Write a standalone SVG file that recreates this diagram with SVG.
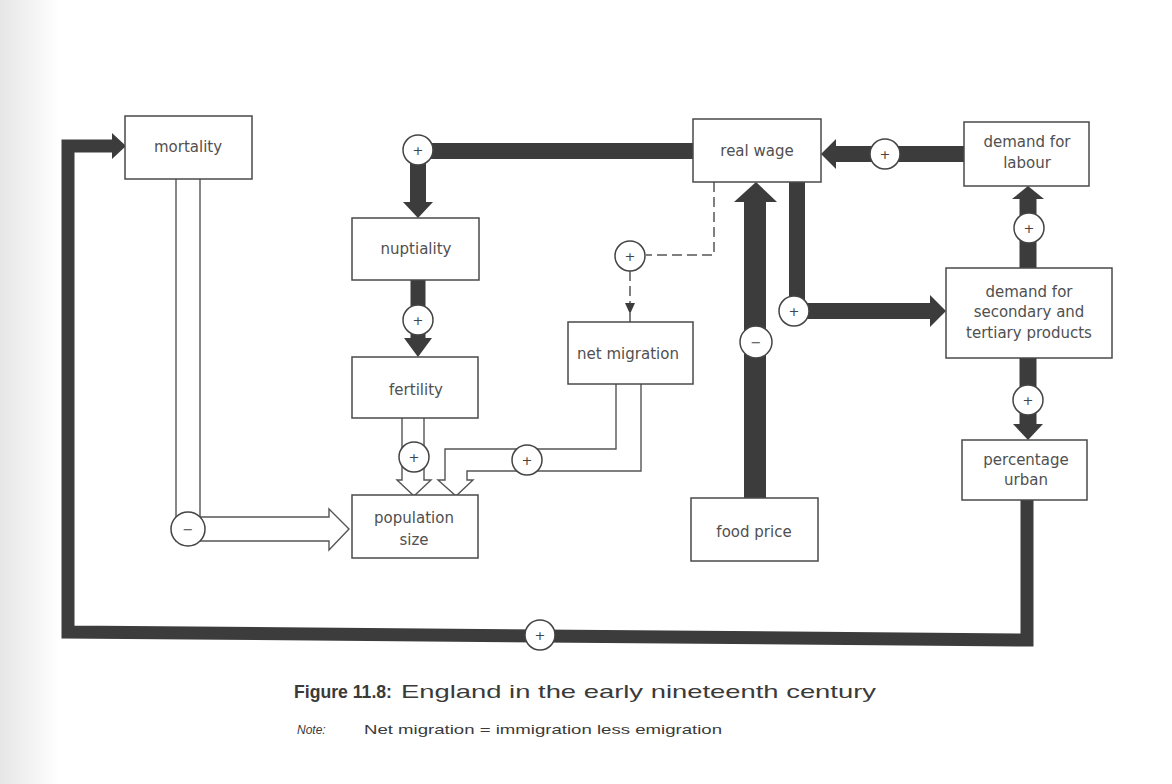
<svg xmlns="http://www.w3.org/2000/svg" width="1172" height="784" viewBox="0 0 1172 784">
<style>
.box{fill:#fff;stroke:#4a4a4a;stroke-width:1.5}
.lbl{font-family:"DejaVu Sans",sans-serif;font-size:15px;fill:#505050;text-anchor:middle;dominant-baseline:central}
.thick{fill:none;stroke:#3c3c3c;stroke-linejoin:miter}
.head{fill:#3c3c3c}
.hollow{fill:#fff;stroke:#555;stroke-width:1.4;stroke-linejoin:miter}
.dash{fill:none;stroke:#555;stroke-width:1.5;stroke-dasharray:10 5}
.sign circle{fill:#fff;stroke:#444;stroke-width:1.5}
.sign text{font-family:"DejaVu Sans",sans-serif;font-size:13px;fill:#444;text-anchor:middle;dominant-baseline:central}
.cap{font-family:"Liberation Sans",Arial,sans-serif;fill:#3a3a3a}
</style>
<defs>
<linearGradient id="scan" x1="0" y1="0" x2="1" y2="0">
<stop offset="0" stop-color="#e6e6e6"/>
<stop offset="1" stop-color="#ffffff"/>
</linearGradient>
</defs>
<rect x="0" y="0" width="1172" height="784" fill="#fff"/>
<rect x="0" y="0" width="60" height="784" fill="url(#scan)"/>

<g id="connectors">
  <!-- hollow arrows -->
  <path class="hollow" d="M176,179 V541 H329 V550 L349,529 L329,509 V517 H200 V179"/>
  <path class="hollow" d="M402,418 V480 H397 L414,496 L431,480 H424 V418"/>
  <path class="hollow" d="M641,384 V471 H467 V480 H473 L456,496 L438,480 H445 V449 H616 V384"/>
  <!-- thick connectors -->
  <path class="thick" stroke-width="16" d="M693,151 H418 V203"/>
  <polygon class="head" points="403,202 433,202 418,218"/>
  <path class="thick" stroke-width="15" d="M418,280 V340"/>
  <polygon class="head" points="404,338 432,338 418,357"/>
  <path class="thick" stroke-width="16" d="M964,154 H834"/>
  <polygon class="head" points="836,139 836,169 821,154"/>
  <path class="thick" stroke-width="22" d="M755,498 V200"/>
  <polygon class="head" points="734,202 777,202 756,182"/>
  <path class="thick" stroke-width="16" d="M797,182 V311 H931"/>
  <polygon class="head" points="930,295 930,327 946,311"/>
  <path class="thick" stroke-width="17" d="M1028,268 V197"/>
  <polygon class="head" points="1012,199 1044,199 1028,186"/>
  <path class="thick" stroke-width="17" d="M1028,358 V426"/>
  <polygon class="head" points="1013,424 1043,424 1028,440"/>
  <path class="thick" stroke-width="13" d="M1027,500 V640 L68,632 V146 H114"/>
  <polygon class="head" points="112,133 112,159 126,146"/>
  <!-- dashed influence -->
  <path class="dash" d="M714,182 V255 H646"/>
  <path class="dash" d="M630,271 V305"/>
  <polygon class="head" points="625,303 635,303 630,314"/>
  <path fill="none" stroke="#555" stroke-width="1.5" d="M630,313 V322"/>
  <!-- signs -->
  <g class="sign">
    <circle cx="418" cy="150" r="15"/><text x="418" y="150">+</text>
    <circle cx="418" cy="320" r="15"/><text x="418" y="320">+</text>
    <circle cx="630" cy="256" r="15"/><text x="630" y="256">+</text>
    <circle cx="885" cy="154" r="15"/><text x="885" y="154">+</text>
    <circle cx="756" cy="342" r="16"/><text x="756" y="342">−</text>
    <circle cx="794" cy="311" r="15"/><text x="794" y="311">+</text>
    <circle cx="1029" cy="228" r="15"/><text x="1029" y="228">+</text>
    <circle cx="1028" cy="400" r="15"/><text x="1028" y="400">+</text>
    <circle cx="414" cy="457" r="15"/><text x="414" y="457">+</text>
    <circle cx="527" cy="460" r="15"/><text x="527" y="460">+</text>
    <circle cx="188" cy="529" r="17"/><text x="188" y="529">−</text>
    <circle cx="540" cy="635" r="15"/><text x="540" y="635">+</text>
  </g>
</g>

<g id="mortality"><rect class="box" x="125" y="116" width="127" height="63"/><text class="lbl" x="188" y="147">mortality</text></g>
<g id="real-wage"><rect class="box" x="693" y="119" width="128" height="63"/><text class="lbl" x="757" y="151">real wage</text></g>
<g id="demand-labour"><rect class="box" x="964" y="122" width="125" height="64"/><text class="lbl" x="1027" y="142">demand for</text><text class="lbl" x="1027" y="163">labour</text></g>
<g id="nuptiality"><rect class="box" x="352" y="218" width="127" height="62"/><text class="lbl" x="416" y="249">nuptiality</text></g>
<g id="net-migration"><rect class="box" x="568" y="322" width="125" height="62"/><text class="lbl" x="628" y="354">net migration</text></g>
<g id="demand-secondary"><rect class="box" x="946" y="268" width="166" height="90"/><text class="lbl" x="1029" y="292">demand for</text><text class="lbl" x="1029" y="312">secondary and</text><text class="lbl" x="1029" y="333">tertiary products</text></g>
<g id="fertility"><rect class="box" x="352" y="357" width="126" height="61"/><text class="lbl" x="416" y="390">fertility</text></g>
<g id="percentage-urban"><rect class="box" x="962" y="440" width="125" height="60"/><text class="lbl" x="1026" y="460">percentage</text><text class="lbl" x="1026" y="480">urban</text></g>
<g id="population-size"><rect class="box" x="352" y="495" width="126" height="63"/><text class="lbl" x="414" y="518">population</text><text class="lbl" x="414" y="540">size</text></g>
<g id="food-price"><rect class="box" x="691" y="498" width="127" height="63"/><text class="lbl" x="754" y="532">food price</text></g>

<g id="caption">
  <text class="cap" x="294" y="698" font-size="19" font-weight="bold" textLength="98" lengthAdjust="spacingAndGlyphs">Figure 11.8:</text>
  <text class="cap" x="401" y="698" font-size="19" textLength="475" lengthAdjust="spacingAndGlyphs">England in the early nineteenth century</text>
  <text class="cap" x="297" y="734" font-size="12" font-style="italic" fill="#555">Note:</text>
  <text class="cap" x="364" y="734" font-size="13" textLength="358" lengthAdjust="spacingAndGlyphs" fill="#555">Net migration = immigration less emigration</text>
</g>
</svg>
